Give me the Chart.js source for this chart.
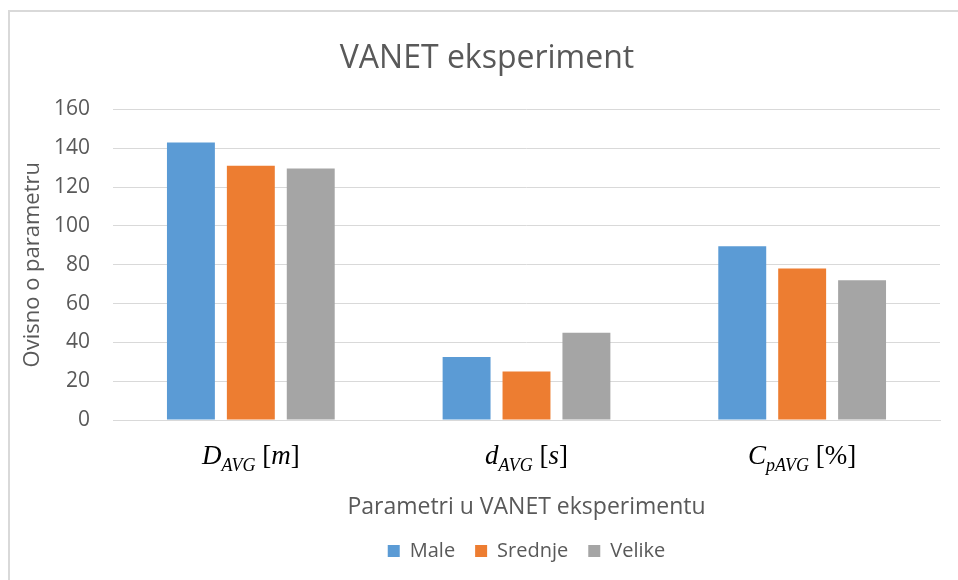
<!DOCTYPE html>
<html>
<head>
<meta charset="utf-8">
<title>VANET eksperiment</title>
<script src="https://cdn.jsdelivr.net/npm/chart.js@4/dist/chart.umd.min.js"></script>
<style>
  html, body { margin: 0; padding: 0; background: #ffffff; }
  #wrap { width: 958px; height: 580px; position: relative; }
</style>
</head>
<body>
<div id="wrap"><canvas id="chart" width="958" height="580"></canvas></div>
<script>
// Parameter categories: symbol, subscript and unit of each measured quantity
const symbols = ['D', 'd', 'C'];
const subscripts = ['AVG', 'AVG', 'pAVG'];
const units = ['m', 's', '%'];
const categories = symbols.map((s, i) => s + '_' + subscripts[i] + ' [' + units[i] + ']');

// Measured values per scenario
const male = [143, 32.5, 89.5];
const srednje = [131, 25, 78];
const velike = [129.5, 45, 72];

// Value axis ticks
const yTicks = [0, 20, 40, 60, 80, 100, 120, 140, 160];

const TEXT = '#595959';
const GRID = '#d9d9d9';
const SANS = '"Open Sans", "Liberation Sans", sans-serif';
const SERIF = '"Liberation Serif", "DejaVu Serif", serif';

// Frame of the chart space and white background
const framePlugin = {
  id: 'frame',
  beforeDraw(chart) {
    const ctx = chart.ctx;
    ctx.save();
    ctx.fillStyle = '#ffffff';
    ctx.fillRect(0, 0, chart.width, chart.height);
    ctx.fillStyle = GRID;
    ctx.fillRect(8, 10, 2, chart.height - 10);
    ctx.fillRect(8, 10, chart.width - 8, 2);
    ctx.restore();
  }
};

// Shift the title slightly to centre it in the chart space
const titleShift = {
  id: 'titleShift',
  afterLayout(chart) {
    const t = chart.titleBlock;
    if (t) { t.left += 12; t.right += 12; }
  }
};

// Category labels drawn as math: italic symbol, italic subscript, bracketed unit
const mathLabels = {
  id: 'mathLabels',
  afterDraw(chart) {
    const ctx = chart.ctx;
    const xs = chart.scales.x;
    const baseY = xs.top + 44;
    const mainFont = 'italic 27px ' + SERIF;
    const subFont = 'italic 18px ' + SERIF;
    const upFont = '27px ' + SERIF;
    ctx.save();
    ctx.fillStyle = '#000000';
    ctx.textBaseline = 'alphabetic';
    ctx.textAlign = 'left';
    categories.forEach((c, i) => {
      const unitItalic = /[a-zA-Z]/.test(units[i]);
      const parts = [
        { t: symbols[i], f: mainFont, dy: 0 },
        { t: subscripts[i], f: subFont, dy: 7 },
        { t: ' ', f: upFont, dy: 0 },
        { t: '[', f: upFont, dy: 0 },
        { t: units[i], f: unitItalic ? mainFont : upFont, dy: 0 },
        { t: ']', f: upFont, dy: 0 }
      ];
      let total = 0;
      parts.forEach(p => { ctx.font = p.f; p.w = ctx.measureText(p.t).width; total += p.w; });
      let x = xs.getPixelForTick(i) - total / 2;
      parts.forEach(p => {
        ctx.font = p.f;
        ctx.fillText(p.t, x, baseY + p.dy);
        x += p.w;
      });
    });
    ctx.restore();
  }
};

new Chart(document.getElementById('chart'), {
  type: 'bar',
  data: {
    labels: categories,
    datasets: [
      { label: 'Male', data: male, backgroundColor: '#5b9bd5' },
      { label: 'Srednje', data: srednje, backgroundColor: '#ed7d31' },
      { label: 'Velike', data: velike, backgroundColor: '#a5a5a5' }
    ]
  },
  options: {
    responsive: false,
    animation: false,
    layout: { padding: { left: 10, right: 18, top: 10, bottom: 9 } },
    datasets: { bar: { categoryPercentage: 0.652, barPercentage: 0.8 } },
    plugins: {
      title: {
        display: true,
        text: 'VANET eksperiment',
        color: TEXT,
        font: { family: SANS, size: 32, weight: 'normal' },
        padding: { top: 30, bottom: 31 }
      },
      legend: {
        position: 'bottom',
        fullSize: false,
        labels: {
          color: TEXT,
          font: { family: SANS, size: 20 },
          boxWidth: 12,
          boxHeight: 12,
          padding: 20
        }
      },
      tooltip: { enabled: false }
    },
    scales: {
      x: {
        grid: { display: false, drawTicks: false },
        border: { display: true, color: GRID, width: 1 },
        ticks: { display: false },
        title: {
          display: true,
          text: 'Parametri u VANET eksperimentu',
          color: TEXT,
          font: { family: SANS, size: 23 },
          padding: { top: 0, bottom: 0 }
        },
        afterFit(scale) { scale.height = 101; }
      },
      y: {
        min: 0,
        max: 160,
        afterBuildTicks(scale) { scale.ticks = yTicks.map(v => ({ value: v })); },
        grid: { color: GRID, lineWidth: 1, drawTicks: false },
        border: { display: false },
        ticks: {
          color: TEXT,
          font: { family: SANS, size: 21 },
          padding: 23
        },
        title: {
          display: true,
          text: 'Ovisno o parametru',
          color: TEXT,
          font: { family: SANS, size: 22 },
          padding: { top: 10, bottom: 0 }
        },
        afterFit(scale) { scale.width = 103; }
      }
    }
  },
  plugins: [framePlugin, titleShift, mathLabels]
});
</script>
</body>
</html>
